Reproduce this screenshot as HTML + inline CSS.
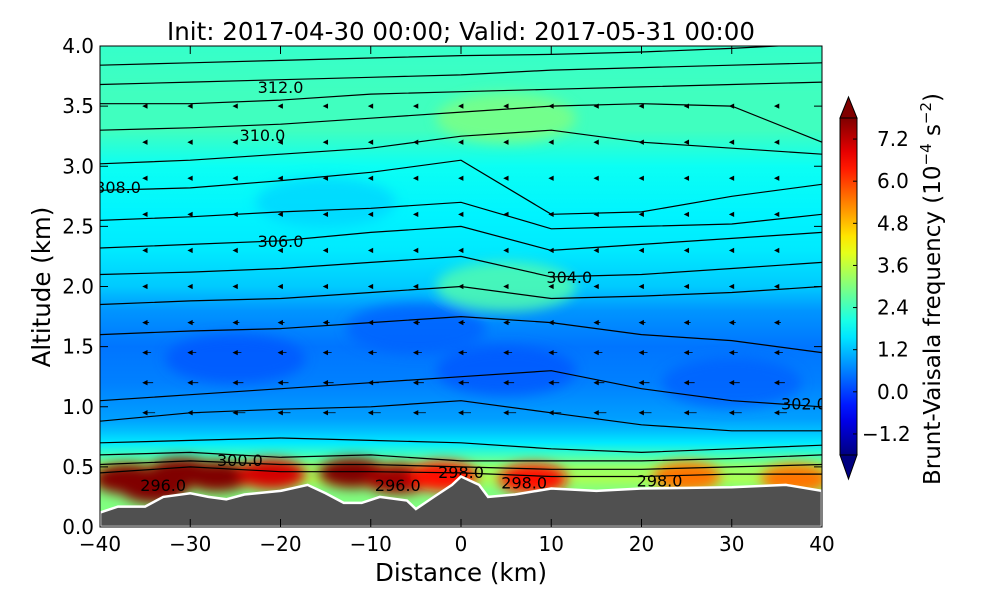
<!DOCTYPE html>
<html><head><meta charset="utf-8"><style>
body{margin:0;background:#fff;}
svg text{font-family:"DejaVu Sans","Liberation Sans",sans-serif;}
</style></head><body>
<svg id="chart" width="1000" height="600" xmlns="http://www.w3.org/2000/svg">
<defs>
<clipPath id="pc"><rect x="100" y="46" width="722" height="481"/></clipPath>
<filter id="blur"><feGaussianBlur stdDeviation="6"/></filter>
</defs>
<g id="plot" clip-path="url(#pc)"></g>
<rect x="100" y="46" width="722" height="481" fill="none" stroke="#000" stroke-width="1"/>
<text x="461" y="40" font-size="24.5" text-anchor="middle">Init: 2017-04-30 00:00; Valid: 2017-05-31 00:00</text>
<g id="axes"></g>
<text x="461" y="581" font-size="24.5" text-anchor="middle">Distance (km)</text>
<text transform="translate(50,287) rotate(-90)" font-size="24.5" text-anchor="middle">Altitude (km)</text>
<g id="cbar"></g>
<text transform="translate(940,289) rotate(-90)" font-size="23" text-anchor="middle">Brunt-Vaisala frequency (10<tspan dy="-9" font-size="15">−4</tspan><tspan dy="9"> s</tspan><tspan dy="-9" font-size="15">−2</tspan><tspan dy="9">)</tspan></text>
</svg>
<script>
// ---- data ----
const profAlt = [0.0,0.3,0.4,0.5,0.6,0.7,0.8,0.9,1.0,1.2,1.5,1.8,2.0,2.3,2.6,3.0,3.3,3.6,4.0];
const profVal = [3.0,3.0,3.4,3.2,2.4,1.6,1.2,0.9,0.8,0.6,0.5,0.8,1.3,1.6,1.7,1.9,2.4,2.4,2.3];
const blobX = [-37,-31,-27,-21,-12,-7,-2,8,25,37,-34];
const blobZ = [0.40,0.45,0.42,0.44,0.45,0.40,0.42,0.40,0.42,0.40,0.32];
const blobV = [8.5,7.8,8.5,7.0,8.5,7.5,6.5,6.5,5.5,5.5,8.5];
const patchX = [-25,5,-5,30,-15,5,5];
const patchZ = [1.4,1.3,1.65,1.2,2.7,3.4,2.0];
const patchV = [0.2,0.2,0.3,0.3,1.4,3.0,2.6];
const terrX = [-40,-38,-35,-33,-30,-28,-26,-24,-20,-17,-15,-13,-11,-9,-6,-5,-3,-1,0,2,3,6,10,15,20,30,36,40];
const terrZ = [0.12,0.17,0.17,0.25,0.28,0.25,0.23,0.27,0.30,0.35,0.28,0.20,0.20,0.25,0.22,0.15,0.25,0.35,0.42,0.35,0.25,0.27,0.32,0.30,0.32,0.33,0.35,0.30];
const contX = [-40,-30,-20,-10,0,10,20,30,40];
const contZ = [
 [3.84,3.86,3.88,3.90,3.92,3.93,3.95,3.98,4.02],
 [3.68,3.70,3.72,3.74,3.76,3.80,3.82,3.84,3.86],
 [3.52,3.52,3.55,3.60,3.62,3.64,3.66,3.68,3.70],
 [3.30,3.32,3.35,3.40,3.45,3.50,3.52,3.50,3.20],
 [3.02,3.05,3.10,3.15,3.25,3.30,3.20,3.15,3.10],
 [2.80,2.82,2.88,2.95,3.05,2.60,2.62,2.75,2.85],
 [2.55,2.58,2.62,2.65,2.70,2.48,2.50,2.52,2.60],
 [2.32,2.35,2.38,2.45,2.50,2.30,2.35,2.40,2.45],
 [2.10,2.12,2.15,2.20,2.25,2.08,2.10,2.15,2.20],
 [1.85,1.88,1.90,1.95,2.00,1.90,1.92,1.95,2.00],
 [1.60,1.63,1.65,1.70,1.75,1.70,1.60,1.55,1.45],
 [1.05,1.10,1.15,1.20,1.25,1.30,1.15,1.05,1.00],
 [0.88,0.95,0.98,1.00,1.05,0.95,0.85,0.80,0.80],
 [0.70,0.72,0.74,0.72,0.70,0.65,0.62,0.65,0.68],
 [0.60,0.62,0.58,0.60,0.55,0.55,0.55,0.57,0.60],
 [0.52,0.55,0.52,0.52,0.50,0.48,0.48,0.50,0.52],
 [0.45,0.50,0.46,0.46,0.45,0.42,0.42,0.44,0.44]
];
const labText = ["312.0","310.0","308.0","306.0","304.0","302.0","300.0","296.0","296.0","298.0","298.0","298.0"];
const labX = [-20,-22,-38,-20,12,38,-24.5,-33,-7,0,7,22];
const labZ = [3.65,3.25,2.82,2.37,2.07,1.02,0.55,0.34,0.34,0.45,0.36,0.38];
const arrowAlt = [0.95,1.2,1.45,1.7,2.0,2.3,2.6,2.9,3.2,3.5];
const arrowKm = [-35,-30,-25,-20,-15,-10,-5,0,5,10,15,20,25,30,35];
const arrowLen = [2.5,2,1.5,1,0.6,0.5,0.4,0.4,0.3,0.3];
const xTicks = [-40,-30,-20,-10,0,10,20,30,40];
const yTicks = [0.0,0.5,1.0,1.5,2.0,2.5,3.0,3.5,4.0];
const cbTicks = [-1.2,0.0,1.2,2.4,3.6,4.8,6.0,7.2];
const vmin=-1.8, vmax=7.8;

// ---- scales ----
const X = km => 100 + (km+40)*722/80;
const Y = z => 527 - z*481/4;
const NS="http://www.w3.org/2000/svg";
function jet(v){let t=(v-vmin)/(vmax-vmin);t=Math.max(0,Math.min(1,t));
 const c=f=>Math.round(255*Math.max(0,Math.min(1,f)));
 return `rgb(${c(1.5-Math.abs(4*t-3))},${c(1.5-Math.abs(4*t-2))},${c(1.5-Math.abs(4*t-1))})`;}
function mk(tag,attrs,parent){const e=document.createElementNS(NS,tag);for(const k in attrs)e.setAttribute(k,attrs[k]);parent.appendChild(e);return e;}
const svg=document.getElementById('chart');
const defs=svg.querySelector('defs');
const plot=document.getElementById('plot');

const g=mk('linearGradient',{id:'fieldGrad',x1:0,y1:Y(4),x2:0,y2:Y(0),gradientUnits:'userSpaceOnUse'},defs);
for(let i=profAlt.length-1;i>=0;i--){mk('stop',{offset:((Y(profAlt[i])-46)/481).toFixed(4),'stop-color':jet(profVal[i])},g);}
const bg=mk('rect',{x:100,y:46,width:722,height:481,fill:'url(#fieldGrad)'},plot);


const pg=mk('g',{filter:'url(#blur)'},plot);
for(let i=0;i<patchX.length;i++){const e=mk('ellipse',{cx:X(patchX[i]),cy:Y(patchZ[i]),rx:70,ry:25,fill:jet(patchV[i]),opacity:0.8},pg);
 
 }
for(let i=0;i<blobX.length;i++){const e=mk('ellipse',{cx:X(blobX[i]),cy:Y(blobZ[i]),rx:34,ry:15,fill:jet(blobV[i])},pg);
 
 }
for(let j=0;j<contZ.length;j++){let d='';
 for(let i=0;i<contX.length;i++){d+=(i?'L':'M')+X(contX[i]).toFixed(1)+','+Y(contZ[j][i]).toFixed(1);}
 const p=mk('path',{d:d,fill:'none',stroke:'#000','stroke-width':1.2},plot);
 
 }
for(let i=0;i<labText.length;i++){const t=mk('text',{x:X(labX[i]),y:Y(labZ[i])+5,'font-size':16,'text-anchor':'middle'},plot);t.textContent=labText[i];
 
 }
for(let a=0;a<arrowAlt.length;a++)for(let k=0;k<arrowKm.length;k++){
 const x=X(arrowKm[k]),y=Y(arrowAlt[a]),L=arrowLen[a]*4;
 const p=mk('path',{d:`M${x+L},${y}L${x},${y}M${x-2},${y}l4,-2l0,4z`,stroke:'#000','stroke-width':0.8,fill:'#000'},plot);
 
 }
let td='M100,527';for(let i=0;i<terrX.length;i++)td+='L'+X(terrX[i]).toFixed(1)+','+Y(terrZ[i]).toFixed(1);td+='L822,527Z';
const tr=mk('path',{d:td,fill:'#505050',stroke:'#fff','stroke-width':2.5},plot);


const ax=document.getElementById('axes');
xTicks.forEach(v=>{const x=X(v);mk('line',{x1:x,x2:x,y1:527,y2:519,stroke:'#000'},ax);mk('line',{x1:x,x2:x,y1:46,y2:54,stroke:'#000'},ax);
 const t=mk('text',{x:x,y:551,'font-size':20,'text-anchor':'middle'},ax);t.textContent=v<0?'−'+(-v):v;
 
 });
yTicks.forEach(v=>{const y=Y(v);mk('line',{x1:100,x2:108,y1:y,y2:y,stroke:'#000'},ax);mk('line',{x1:822,x2:814,y1:y,y2:y,stroke:'#000'},ax);
 const t=mk('text',{x:94,y:y+7,'font-size':20,'text-anchor':'end'},ax);t.textContent=v.toFixed(1);
 
 });
const cb=document.getElementById('cbar');
const cy=v=>455-(v-vmin)*(455-118)/(vmax-vmin);
const cg=mk('linearGradient',{id:'cbGrad',x1:0,y1:1,x2:0,y2:0},defs);
for(let i=0;i<=20;i++){const v=vmin+i*(vmax-vmin)/20;mk('stop',{offset:i/20,'stop-color':jet(v)},cg);}
const cr=mk('rect',{x:840,y:118,width:17,height:337,fill:'url(#cbGrad)',stroke:'#000'},cb);


mk('path',{d:'M840,118L848.5,97L857,118Z',fill:'rgb(128,0,0)',stroke:'#000'},cb);
mk('path',{d:'M840,455L848.5,479L857,455Z',fill:'rgb(0,0,128)',stroke:'#000'},cb);
cbTicks.forEach(v=>{const y=cy(v);mk('line',{x1:853,x2:857,y1:y,y2:y,stroke:'#000'},cb);
 const t=mk('text',{x:v<0?862:877,y:y+7,'font-size':20},cb);t.textContent=v<0?'−'+(-v).toFixed(1):v.toFixed(1);
 
 });
</script>
</body></html>
